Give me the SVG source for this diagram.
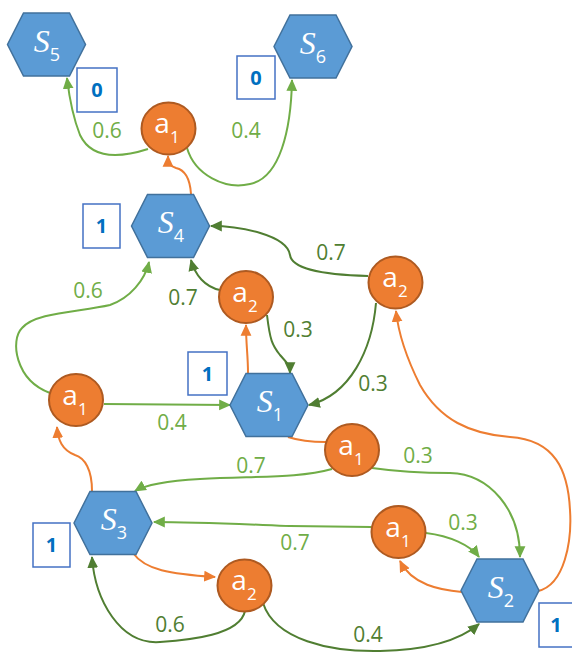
<svg xmlns="http://www.w3.org/2000/svg" width="572" height="653" viewBox="0 0 572 653">
<style>
.hex{fill:#5B9BD5;stroke:#41719C;stroke-width:1.5}
.act{fill:#ED7D31;stroke:#AE5A21;stroke-width:2}
.sl{font-family:"Liberation Serif",serif;font-style:italic;font-size:32px;fill:#fff;text-anchor:middle}
.sub{font-family:"Open Sans","Noto Sans",sans-serif;font-style:normal;font-size:18px}
.al{font-family:"Open Sans","Noto Sans",sans-serif;font-size:28px;fill:#fff;text-anchor:middle}
.box{fill:#fff;stroke:#4472C4;stroke-width:1.5}
.bt{font-family:"Open Sans","Noto Sans",sans-serif;font-weight:bold;font-size:20px;fill:#0070C0;text-anchor:middle}
.lg{fill:none;stroke:#70AD47;stroke-width:2}
.dg{fill:none;stroke:#507E32;stroke-width:2}
.or{fill:none;stroke:#ED7D31;stroke-width:2}
.n{font-family:"Open Sans","Noto Sans",sans-serif;font-size:21px;text-anchor:middle}
.nl{fill:#70AD47}
.nd{fill:#507E32}
</style>
<defs>
<polygon id="hx" points="-39,0 -23,-31.5 23,-31.5 39,0 23,31.5 -23,31.5"/>
<marker id="mlg" markerWidth="13" markerHeight="13" refX="10" refY="5" orient="auto" markerUnits="userSpaceOnUse" viewBox="0 0 12 10"><path d="M0,0 L11,5 L0,10 Z" fill="#70AD47"/></marker>
<marker id="mdg" markerWidth="13" markerHeight="13" refX="10" refY="5" orient="auto" markerUnits="userSpaceOnUse" viewBox="0 0 12 10"><path d="M0,0 L11,5 L0,10 Z" fill="#507E32"/></marker>
<marker id="mor" markerWidth="13" markerHeight="13" refX="10" refY="5" orient="auto" markerUnits="userSpaceOnUse" viewBox="0 0 12 10"><path d="M0,0 L11,5 L0,10 Z" fill="#ED7D31"/></marker>
</defs>
<rect width="572" height="653" fill="#fff"/>
<g id="connectors">
<path class="lg" marker-end="url(#mlg)" d="M148,149 C120,158 92,160 80,135 C72,115 69,95 67,78"/>
<path class="lg" marker-end="url(#mlg)" d="M187,148 C195,175 225,190 250,184 C280,178 291,130 292,80"/>
<path class="or" marker-end="url(#mor)" d="M191,194 C190,178 185,170 176,168 C170,166 168,164 168,156"/>
<path class="dg" marker-end="url(#mdg)" d="M368,276 C330,275 292,270 290,255 C287,235 240,226 211,226"/>
<path class="dg" marker-end="url(#mdg)" d="M220,290 C205,287 195,275 191,260"/>
<path class="dg" marker-end="url(#mdg)" d="M267,315 C270,340 272,345 280,355 C286,362 290,365 290,373"/>
<path class="dg" marker-end="url(#mdg)" d="M376,303 C372,350 350,395 309,405"/>
<path class="or" marker-end="url(#mor)" d="M248,373 C248,355 246,345 246,325"/>
<path class="lg" marker-end="url(#mlg)" d="M50,393 C15,380 10,340 22,328 C35,312 80,312 110,305 C130,298 145,280 149,262"/>
<path class="lg" marker-end="url(#mlg)" d="M104,404 L230,405"/>
<path class="or" d="M288,437 C300,441 312,442 326,442"/>
<path class="lg" marker-end="url(#mlg)" d="M332,469 C300,478 260,476 200,479 C165,481 145,485 135,491"/>
<path class="lg" marker-end="url(#mlg)" d="M372,468 C400,472 420,473 450,473 C490,474 520,510 520,557"/>
<path class="lg" marker-end="url(#mlg)" d="M371,527 L290,526 C260,525 200,522 154,522"/>
<path class="lg" marker-end="url(#mlg)" d="M426,533 C450,536 470,545 479,557"/>
<path class="or" marker-end="url(#mor)" d="M462,592 C440,590 412,585 400,561"/>
<path class="or" marker-end="url(#mor)" d="M538,591 C565,585 572,540 570,510 C568,470 555,440 510,437 C470,434 440,420 420,385 C405,355 398,330 396,311"/>
<path class="or" marker-end="url(#mor)" d="M92,491 C92,470 85,458 75,455 C62,450 58,440 57,427"/>
<path class="or" marker-end="url(#mor)" d="M133,553 C145,570 170,574 215,577"/>
<path class="dg" marker-end="url(#mdg)" d="M245,611 C240,635 190,640 160,642 C120,645 95,600 92,557"/>
<path class="dg" marker-end="url(#mdg)" d="M263,603 C275,640 330,652 380,651 C430,650 460,640 479,624"/>
</g>
<g id="labels">
<text class="n nl" x="107" y="138">0.6</text>
<text class="n nl" x="246" y="138">0.4</text>
<text class="n nd" x="331" y="260">0.7</text>
<text class="n nl" x="88" y="298">0.6</text>
<text class="n nd" x="183" y="305">0.7</text>
<text class="n nd" x="298" y="337">0.3</text>
<text class="n nd" x="373" y="391">0.3</text>
<text class="n nl" x="172" y="430">0.4</text>
<text class="n nl" x="251" y="473">0.7</text>
<text class="n nl" x="418" y="463">0.3</text>
<text class="n nl" x="463" y="530">0.3</text>
<text class="n nl" x="295" y="550">0.7</text>
<text class="n nd" x="170" y="632">0.6</text>
<text class="n nd" x="368" y="642">0.4</text>
</g>
<g id="S5"><use href="#hx" x="46.5" y="44.5" class="hex"/><text class="sl" x="47" y="52">S<tspan class="sub" dy="9">5</tspan></text></g>
<g id="S6"><use href="#hx" x="313" y="46.5" class="hex"/><text class="sl" x="313" y="54">S<tspan class="sub" dy="9">6</tspan></text></g>
<g id="S4"><use href="#hx" x="170.5" y="226" class="hex"/><text class="sl" x="171" y="233">S<tspan class="sub" dy="9">4</tspan></text></g>
<g id="S1"><use href="#hx" x="269" y="405" class="hex"/><text class="sl" x="270" y="412">S<tspan class="sub" dy="9">1</tspan></text></g>
<g id="S3"><use href="#hx" x="113" y="523" class="hex"/><text class="sl" x="114" y="530">S<tspan class="sub" dy="9">3</tspan></text></g>
<g id="S2"><use href="#hx" x="500" y="590.5" class="hex"/><text class="sl" x="501" y="598">S<tspan class="sub" dy="9">2</tspan></text></g>
<g id="a1_top"><ellipse class="act" cx="168.5" cy="128.5" rx="27" ry="26"/><text class="al" x="167" y="133">a<tspan dy="10" font-size="17">1</tspan></text></g>
<g id="a2_mid"><ellipse class="act" cx="246" cy="297" rx="27" ry="26"/><text class="al" x="245" y="302">a<tspan dy="10" font-size="17">2</tspan></text></g>
<g id="a2_right"><ellipse class="act" cx="395.5" cy="282.5" rx="27" ry="26"/><text class="al" x="395" y="287">a<tspan dy="10" font-size="17">2</tspan></text></g>
<g id="a1_left"><ellipse class="act" cx="76" cy="400" rx="27" ry="26"/><text class="al" x="75" y="405">a<tspan dy="10" font-size="17">1</tspan></text></g>
<g id="a1_s1"><ellipse class="act" cx="352" cy="450" rx="27" ry="26"/><text class="al" x="351" y="455">a<tspan dy="10" font-size="17">1</tspan></text></g>
<g id="a1_s2"><ellipse class="act" cx="398.5" cy="532" rx="27" ry="26"/><text class="al" x="398" y="537">a<tspan dy="10" font-size="17">1</tspan></text></g>
<g id="a2_s3"><ellipse class="act" cx="244.5" cy="585.5" rx="27" ry="26"/><text class="al" x="244" y="590">a<tspan dy="10" font-size="17">2</tspan></text></g>
<g id="v_S5"><rect class="box" x="77" y="68" width="40" height="44"/><text class="bt" x="97" y="97">0</text></g>
<g id="v_S6"><rect class="box" x="237" y="56" width="38" height="43"/><text class="bt" x="256" y="85">0</text></g>
<g id="v_S4"><rect class="box" x="83" y="204" width="37" height="44"/><text class="bt" x="101.5" y="233">1</text></g>
<g id="v_S1"><rect class="box" x="188" y="352" width="39" height="43"/><text class="bt" x="207.5" y="381">1</text></g>
<g id="v_S3"><rect class="box" x="33" y="523" width="37" height="44"/><text class="bt" x="51.5" y="552">1</text></g>
<g id="v_S2"><rect class="box" x="539" y="603" width="38" height="44"/><text class="bt" x="556" y="632">1</text></g>
</svg>
